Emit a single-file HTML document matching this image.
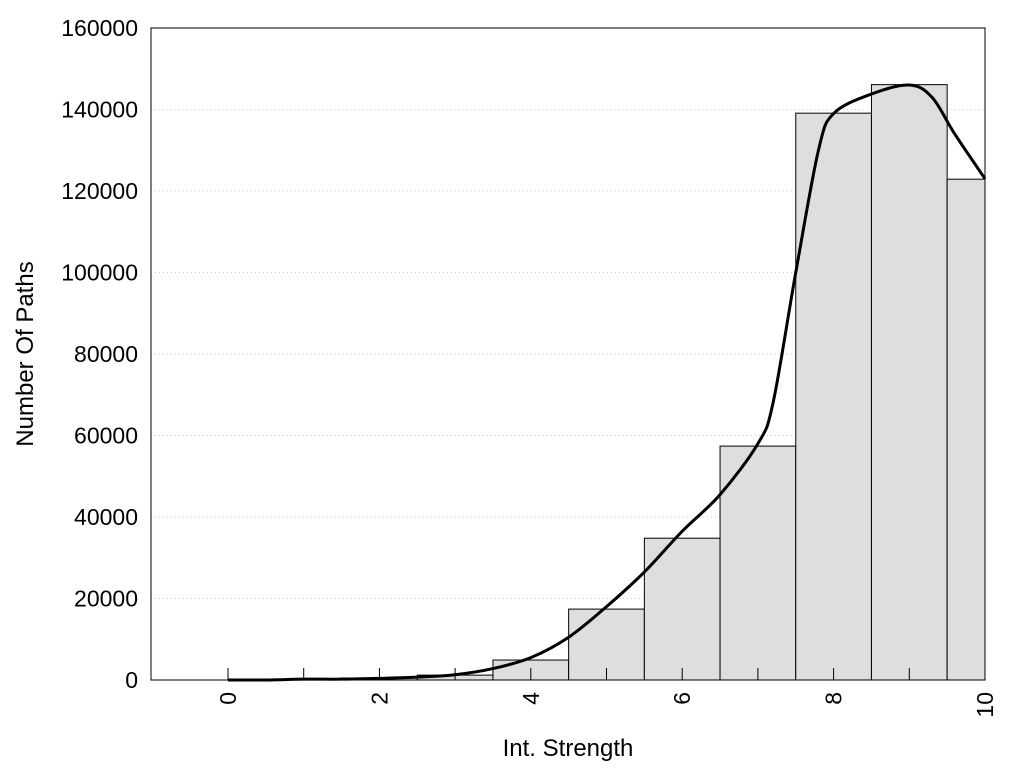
<!DOCTYPE html>
<html><head><meta charset="utf-8"><style>
body{margin:0;background:#fff;}
svg text{font-family:"Liberation Sans",sans-serif;font-size:23px;fill:#000;}
svg text.title{font-size:24px;}
</style></head><body>
<svg id="chart" width="1024" height="768">
<g id="grid"></g><g id="bars"></g><g id="curve"></g><g id="axes"></g>
</svg>
<script>
const categories=[0,1,2,3,4,5,6,7,8,9,10];
const counts=[0,200,500,1200,4900,17400,34800,57400,139100,146100,122900];
const curveX=[0,0.5,1,1.5,2,2.5,3,3.5,4,4.5,5,5.5,6,6.5,7,7.2,7.5,7.8,8,8.5,9,9.3,9.6,10];
const curveY=[0,0,200,200,400,700,1300,2800,5500,10500,18000,26500,36500,45500,58000,68000,100000,130000,139000,143800,146000,143000,134000,123000];
const yTicks=[0,20000,40000,60000,80000,100000,120000,140000,160000];
const xTicks=[0,1,2,3,4,5,6,7,8,9,10];
const xLabels=[0,2,4,6,8,10];
const L=151,R=985,T=28,B=680;
const xs=v=>228+(v-0)*75.7;
const ys=v=>B-(v/160000)*(B-T);
const NS="http://www.w3.org/2000/svg";
function mk(p,tag,a){const e=document.createElementNS(NS,tag);for(const k in a)e.setAttribute(k,a[k]);p.appendChild(e);return e;}
const g=document.getElementById('grid'),gb=document.getElementById('bars'),gc=document.getElementById('curve'),ga=document.getElementById('axes');
yTicks.forEach(t=>{if(t>0&&t<160000){const l=mk(g,'line',{x1:L,x2:R,y1:ys(t),y2:ys(t),stroke:'#ccc','stroke-dasharray':'1,3'});

}
const tx=mk(ga,'text',{x:138,y:ys(t)+8,'text-anchor':'end'});tx.textContent=t;

});
categories.forEach((c,i)=>{if(counts[i]<=0)return;const x0=Math.max(L,xs(c-0.5)),x1=Math.min(R,xs(c+0.5));
const r=mk(gb,'rect',{x:x0,y:ys(counts[i]),width:x1-x0,height:B-ys(counts[i]),fill:'#dedede',stroke:'#000','stroke-width':1});

});
const P=curveX.map((x,i)=>[xs(x),ys(curveY[i])]);
let d='M'+P[0][0]+','+P[0][1];
for(let i=0;i<P.length-1;i++){const p0=P[Math.max(0,i-1)],p1=P[i],p2=P[i+1],p3=P[Math.min(P.length-1,i+2)];
d+=` C${p1[0]+(p2[0]-p0[0])/6},${p1[1]+(p2[1]-p0[1])/6} ${p2[0]-(p3[0]-p1[0])/6},${p2[1]-(p3[1]-p1[1])/6} ${p2[0]},${p2[1]}`;}
const path=mk(gc,'path',{d:d,fill:'none',stroke:'#000','stroke-width':3});


xTicks.forEach(t=>{const l=mk(ga,'line',{x1:xs(t),x2:xs(t),y1:B-12,y2:B,stroke:'#000'});

});
xLabels.forEach(t=>{const tx=mk(ga,'text',{x:0,y:0,'text-anchor':'end',transform:`translate(${xs(t)+8},692) rotate(-90)`});tx.textContent=t;

});
const fr=mk(ga,'rect',{x:L,y:T,width:R-L,height:B-T,fill:'none',stroke:'#000'});


const xt=mk(ga,'text',{x:568,y:756,'text-anchor':'middle',class:'title'});xt.textContent='Int. Strength';


const yt=mk(ga,'text',{x:0,y:0,'text-anchor':'middle',class:'title',transform:'translate(33,354) rotate(-90)'});yt.textContent='Number Of Paths';


</script>
</body></html>
